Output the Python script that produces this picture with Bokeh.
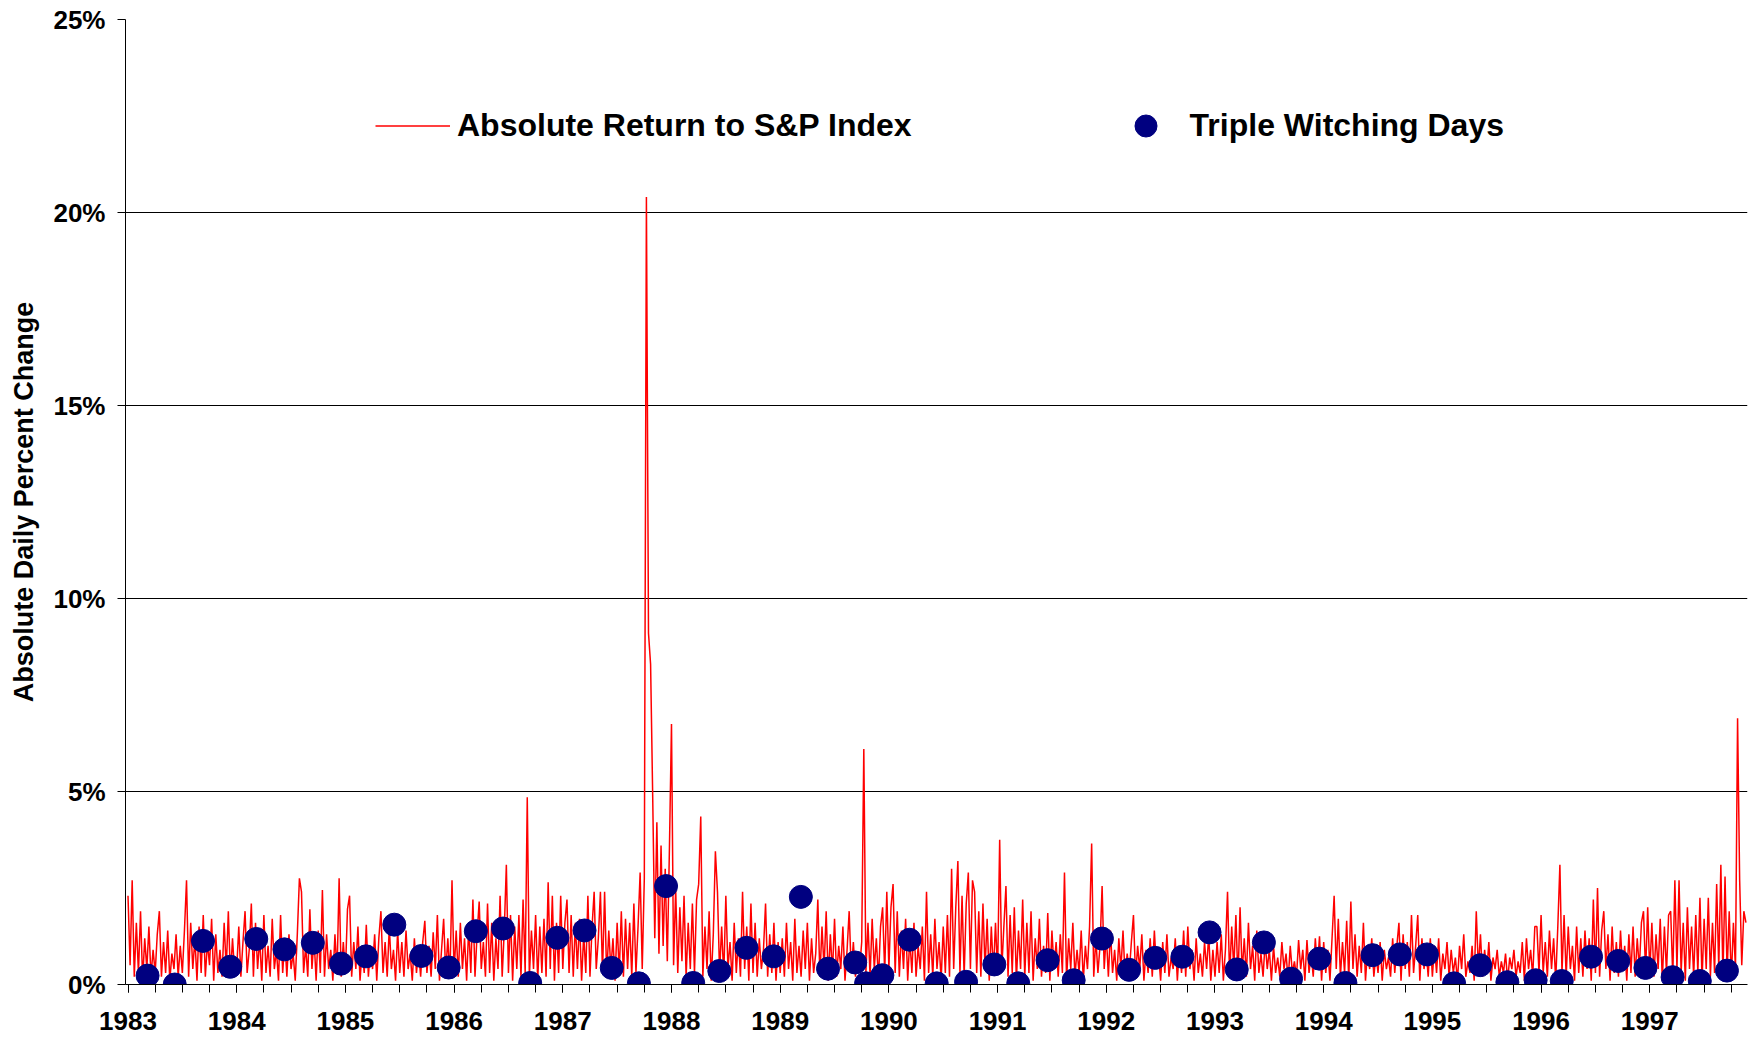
from bokeh.plotting import figure
from bokeh.models import FixedTicker, Legend, LegendItem, Range1d
from bokeh.embed import file_html
from bokeh.resources import INLINE

# Absolute daily % change of the S&P index (about one value per week)
ret_1983 = [2.3, 0.5, 2.7, 0.2, 1.6, 0.3, 1.9, 0.1, 1.2, 0.4, 1.5, 0.2, 0.9, 0.3, 1.3, 1.9, 0.2, 1.1, 0.3, 1.4,
            0.1, 0.8, 0.4, 1.3, 0.2, 1.0, 0.3, 1.4, 2.7, 0.2, 1.6, 0.4, 1.2, 0.1, 1.5, 0.3, 1.8, 0.2, 1.1, 0.5,
            1.7, 0.1, 1.3, 0.3, 0.9, 0.2, 1.6, 0.4, 1.9, 0.2, 1.2, 0.3]
ret_1984 = [0.4, 1.5, 0.2, 1.1, 1.9, 0.3, 0.9, 2.1, 0.2, 1.6, 0.4, 1.2, 0.1, 1.8, 0.3, 1.0, 0.2, 1.7, 0.4, 0.9,
            0.1, 1.8, 0.3, 1.2, 0.2, 1.3, 0.4, 0.8, 0.1, 1.3, 2.75, 2.4, 0.3, 1.0, 0.2, 1.95, 0.4, 1.2, 0.1, 1.4,
            0.3, 2.45, 0.2, 1.3, 0.4, 0.9, 0.1, 1.3, 0.3, 2.75, 0.2, 1.1]
ret_1985 = [0.3, 1.95, 2.3, 0.2, 1.1, 0.4, 1.5, 0.1, 0.9, 0.3, 1.55, 0.2, 1.0, 0.4, 1.3, 0.1, 1.2, 1.9, 0.3, 1.1,
            0.2, 1.5, 0.4, 0.9, 0.1, 1.4, 0.3, 1.1, 0.2, 1.4, 0.4, 0.8, 0.1, 1.2, 0.3, 0.9, 0.2, 1.1, 1.65, 0.3,
            1.0, 0.2, 1.35, 0.4, 1.8, 0.1, 0.9, 1.7, 0.3, 1.2, 0.2, 2.7]
ret_1986 = [0.3, 1.4, 0.2, 1.6, 0.4, 1.2, 0.1, 1.5, 0.3, 2.2, 0.2, 1.3, 2.15, 0.4, 1.1, 0.2, 2.1, 0.3, 1.6, 0.1,
            1.2, 0.4, 2.3, 0.2, 1.4, 3.1, 0.3, 1.8, 0.1, 1.5, 0.4, 1.8, 0.2, 2.2, 0.3, 4.85, 0.2, 1.4, 0.4, 1.8,
            0.1, 1.5, 0.3, 1.7, 0.2, 2.65, 0.4, 2.3, 0.1, 1.6, 0.3, 2.3]
ret_1987 = [0.4, 1.6, 2.2, 0.3, 1.8, 0.2, 1.6, 0.4, 1.7, 0.1, 1.3, 0.3, 2.3, 0.2, 1.5, 2.4, 0.4, 1.2, 2.4, 0.3,
            2.4, 0.2, 1.4, 0.4, 1.2, 0.1, 1.6, 0.3, 1.9, 0.2, 1.7, 0.4, 1.6, 0.2, 2.1, 0.3, 1.5, 2.9, 0.4, 2.75,
            20.4, 9.1, 8.3, 4.9, 1.2, 4.2, 0.8, 3.6, 1.0, 3.0, 0.6, 3.5]
ret_1988 = [6.75, 0.5, 2.5, 0.3, 2.0, 0.6, 2.3, 0.2, 1.6, 0.4, 2.1, 0.3, 2.2, 2.6, 4.35, 0.2, 1.5, 0.4, 1.9, 0.1,
            1.3, 3.45, 2.4, 0.3, 1.5, 0.2, 2.3, 0.4, 1.1, 0.1, 1.6, 0.3, 1.2, 0.2, 2.4, 0.4, 1.5, 0.1, 2.1, 0.3,
            1.6, 0.2, 1.2, 0.4, 0.9, 2.1, 0.2, 1.3, 0.3, 1.6, 0.1, 1.1]
ret_1989 = [0.3, 1.2, 0.2, 1.6, 0.4, 1.1, 0.1, 1.7, 0.3, 1.0, 0.2, 1.4, 0.4, 1.6, 0.1, 1.2, 0.3, 0.8, 2.2, 0.2,
            1.5, 0.4, 1.9, 0.1, 1.3, 0.3, 1.7, 0.2, 1.0, 0.4, 1.5, 0.1, 0.9, 1.9, 0.3, 1.1, 0.2, 0.8, 0.4, 1.1,
            6.1, 0.3, 1.6, 0.2, 1.7, 0.4, 1.2, 0.1, 1.5, 2.0, 0.3, 2.4]
ret_1990 = [0.4, 2.0, 2.6, 0.3, 1.9, 0.2, 1.4, 0.4, 1.7, 0.1, 1.2, 0.3, 1.6, 0.2, 1.0, 0.4, 1.5, 0.1, 2.4, 0.3,
            1.3, 0.2, 1.7, 0.4, 1.1, 0.1, 1.5, 0.3, 1.8, 0.2, 3.0, 0.4, 2.0, 3.2, 0.3, 2.3, 0.2, 2.1, 2.9, 0.4,
            2.7, 2.4, 0.3, 1.9, 0.2, 2.1, 0.4, 1.7, 0.1, 1.5, 0.3, 1.6]
ret_1991 = [0.3, 3.75, 0.4, 1.5, 2.55, 0.2, 1.8, 0.3, 2.0, 0.1, 1.4, 0.4, 2.2, 0.2, 1.6, 0.3, 1.9, 0.1, 1.2, 0.4,
            1.7, 0.2, 1.0, 0.3, 1.85, 0.1, 1.4, 0.4, 1.1, 0.2, 1.3, 0.3, 2.9, 0.1, 1.2, 0.4, 1.6, 0.2, 0.9, 0.3,
            1.4, 0.1, 1.0, 0.4, 1.5, 3.65, 0.2, 1.2, 0.3, 1.0, 2.55, 0.4]
ret_1992 = [1.3, 0.2, 1.4, 0.3, 0.9, 0.1, 1.2, 0.4, 1.4, 0.2, 0.8, 0.3, 1.1, 1.8, 0.2, 1.0, 0.4, 1.3, 0.1, 0.9,
            0.3, 1.2, 0.2, 1.4, 0.4, 0.8, 0.1, 1.1, 0.3, 1.3, 0.2, 0.7, 0.4, 1.2, 0.1, 1.0, 0.3, 1.4, 0.2, 1.5,
            0.4, 0.9, 0.1, 1.2, 0.3, 0.8, 0.2, 1.1, 0.4, 1.3, 0.1, 0.9]
ret_1993 = [0.2, 1.1, 0.3, 1.3, 0.1, 0.9, 2.4, 0.2, 1.5, 0.4, 1.8, 0.1, 2.0, 0.3, 1.2, 0.2, 1.6, 0.4, 1.0, 0.1,
            1.4, 0.3, 0.8, 0.2, 1.1, 0.4, 0.9, 0.1, 1.0, 0.3, 0.7, 0.2, 1.1, 0.4, 0.8, 0.1, 1.0, 0.3, 0.6, 0.2,
            1.15, 0.4, 0.9, 0.1, 1.15, 0.3, 0.8, 0.2, 1.2, 0.4, 1.25, 0.1]
ret_1994 = [1.1, 0.3, 0.9, 0.1, 1.2, 2.3, 0.4, 1.7, 0.2, 1.1, 0.3, 1.65, 0.1, 2.15, 0.4, 1.3, 0.2, 1.0, 0.3, 1.6,
            0.1, 0.9, 0.4, 1.2, 0.2, 0.8, 0.3, 1.1, 0.1, 0.9, 0.4, 0.7, 0.2, 1.2, 0.3, 1.0, 1.6, 0.1, 1.3, 0.4,
            1.1, 0.2, 1.8, 0.3, 1.0, 1.8, 0.1, 1.2, 0.4, 0.9, 0.2, 1.2]
ret_1995 = [0.2, 1.0, 0.3, 1.2, 0.1, 0.8, 0.4, 1.1, 0.2, 0.9, 0.3, 0.7, 0.1, 1.0, 0.4, 1.3, 0.2, 0.6, 0.3, 1.0,
            0.1, 1.9, 0.4, 1.3, 0.2, 0.9, 0.3, 1.1, 0.1, 0.7, 0.4, 0.9, 0.2, 0.6, 0.3, 0.8, 0.1, 0.7, 0.4, 0.9,
            0.2, 0.6, 0.3, 1.1, 0.1, 1.2, 0.4, 0.9, 0.2, 1.5, 1.5, 0.3]
ret_1996 = [1.8, 0.3, 1.1, 0.2, 1.4, 0.4, 1.2, 0.1, 1.5, 3.1, 0.3, 1.8, 0.2, 1.5, 0.4, 1.0, 0.1, 1.5, 0.3, 1.2,
            0.2, 1.4, 0.4, 1.2, 0.1, 2.2, 0.3, 2.5, 0.2, 1.4, 1.9, 0.4, 1.3, 0.1, 1.5, 0.3, 1.1, 0.2, 1.4, 0.4,
            1.0, 0.1, 1.3, 0.3, 1.5, 0.2, 1.2, 0.4, 1.6, 1.9, 0.3, 2.0]
ret_1997 = [0.3, 1.6, 0.2, 1.3, 0.4, 1.7, 0.1, 1.5, 0.3, 1.8, 1.9, 0.2, 2.7, 0.4, 2.7, 0.3, 1.6, 0.1, 2.0, 0.4,
            1.5, 0.2, 1.8, 0.3, 2.25, 0.1, 1.7, 0.4, 2.25, 0.2, 1.6, 0.3, 2.6, 0.4, 3.1, 0.2, 2.8, 0.3, 1.9, 0.1,
            1.6, 0.4, 6.9, 2.7, 0.5, 1.9, 1.6]

# Triple witching days: position (decimal year) and absolute % change
witching_x = [1983.18, 1983.43, 1983.69, 1983.94, 1984.18, 1984.44, 1984.70, 1984.96,
              1985.19, 1985.45, 1985.70, 1985.95, 1986.20, 1986.45, 1986.70, 1986.95,
              1987.20, 1987.45, 1987.70, 1987.95, 1988.20, 1988.44, 1988.69, 1988.94,
              1989.19, 1989.44, 1989.69, 1989.79, 1989.94, 1990.19, 1990.44, 1990.71,
              1990.97, 1991.19, 1991.46, 1991.70, 1991.96, 1992.21, 1992.45, 1992.70,
              1992.95, 1993.20, 1993.45, 1993.70, 1993.96, 1994.20, 1994.45, 1994.70,
              1994.95, 1995.20, 1995.44, 1995.69, 1995.95, 1996.19, 1996.46, 1996.71,
              1996.96, 1997.21, 1997.46, 1997.71]
witching_y = [0.23, 0.0, 1.13, 0.46, 1.18, 0.91, 1.08, 0.54,
              0.73, 1.55, 0.74, 0.44, 1.38, 1.45, 0.04, 1.21,
              1.40, 0.43, 0.03, 2.55, 0.04, 0.35, 0.95, 0.73,
              2.27, 0.41, 0.57, 0.03, 0.24, 1.16, 0.03, 0.07,
              0.52, 0.03, 0.63, 0.11, 1.19, 0.38, 0.69, 0.72,
              1.35, 0.39, 1.09, 0.15, 0.67, 0.04, 0.76, 0.78,
              0.78, 0.03, 0.50, 0.06, 0.11, 0.09, 0.72, 0.61,
              0.43, 0.19, 0.09, 0.36]

year_ticks = list(range(1983, 1998))
year_labels = [str(y) for y in year_ticks]
y_ticks = [0, 5, 10, 15, 20, 25]
y_tick_labels = ["0%", "5%", "10%", "15%", "20%", "25%"]

series = [(1983, ret_1983), (1984, ret_1984), (1985, ret_1985), (1986, ret_1986), (1987, ret_1987),
          (1988, ret_1988), (1989, ret_1989), (1990, ret_1990), (1991, ret_1991), (1992, ret_1992),
          (1993, ret_1993), (1994, ret_1994), (1995, ret_1995), (1996, ret_1996), (1997, ret_1997)]
xs, ys = [], []
for year, vals in series:
    for i, v in enumerate(vals):
        xs.append(year + i / 52.0)
        ys.append(v)

quarter_ticks = [y + q / 4.0 for y in year_ticks for q in range(4)]

p = figure(width=1752, height=1040, output_backend="svg", toolbar_location=None,
           x_range=Range1d(1982.977, 1997.899), y_range=Range1d(0, 25),
           min_border_left=125, min_border_right=5, min_border_top=19, min_border_bottom=56)
p.outline_line_color = None
p.background_fill_color = "white"
p.border_fill_color = "white"

line_r = p.line(xs, ys, line_color="#FF0000", line_width=1.5)
dot_r = p.scatter(witching_x, witching_y, size=23, fill_color="#000080", line_color="#000080")

FONT = "Liberation Sans"

xa = p.xaxis[0]
xa.ticker = FixedTicker(ticks=year_ticks, minor_ticks=quarter_ticks)
xa.major_label_overrides = dict(zip(year_ticks, year_labels))
xa.major_tick_out = 8
xa.major_tick_in = 0
xa.minor_tick_out = 8
xa.minor_tick_in = 0
xa.axis_line_color = "black"
xa.major_tick_line_color = "black"
xa.minor_tick_line_color = "black"
xa.major_label_text_font = FONT
xa.major_label_text_font_style = "bold"
xa.major_label_text_font_size = "26px"
xa.major_label_text_color = "black"
xa.major_label_standoff = 19

ya = p.yaxis[0]
ya.ticker = FixedTicker(ticks=y_ticks, minor_ticks=[])
ya.major_label_overrides = dict(zip(y_ticks, y_tick_labels))
ya.major_tick_out = 8
ya.major_tick_in = 0
ya.minor_tick_out = 0
ya.minor_tick_in = 0
ya.axis_line_color = "black"
ya.major_tick_line_color = "black"
ya.major_label_text_font = FONT
ya.major_label_text_font_style = "bold"
ya.major_label_text_font_size = "26px"
ya.major_label_text_color = "black"
ya.major_label_standoff = 12
ya.axis_label = "Absolute Daily Percent Change"
ya.axis_label_text_font = FONT
ya.axis_label_text_font_style = "bold"
ya.axis_label_text_font_size = "27px"
ya.axis_label_text_color = "black"
ya.axis_label_standoff = 11

p.xgrid.visible = False
p.ygrid.ticker = FixedTicker(ticks=y_ticks, minor_ticks=[])
p.ygrid.grid_line_color = "black"
p.ygrid.grid_line_width = 1

legend = Legend(items=[LegendItem(label="Absolute Return to S&P Index", renderers=[line_r]),
                       LegendItem(label="Triple Witching Days", renderers=[dot_r])],
                orientation="horizontal", location=(250, 831.5),
                glyph_width=75, glyph_height=55, label_height=55, label_standoff=7,
                spacing=196, padding=0, margin=0,
                border_line_color=None, background_fill_alpha=0,
                label_text_font=FONT, label_text_font_style="bold",
                label_text_font_size="32px", label_text_color="black")
p.add_layout(legend)

open("out.html", "w").write(file_html(p, INLINE))
